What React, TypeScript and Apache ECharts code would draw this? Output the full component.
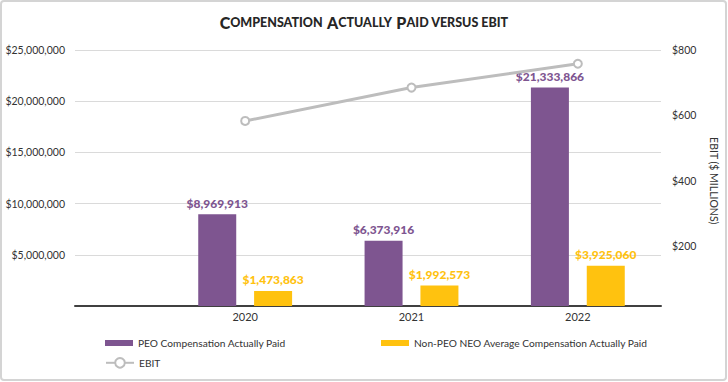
import React, { useEffect, useRef } from "react";
import * as echarts from "echarts";

const years = ["2020", "2021", "2022"];
const peoCap = [8969913, 6373916, 21333866];
const neoCap = [1473863, 1992573, 3925060];
const ebit = [583, 685, 758];

const peoName = "PEO Compensation Actually Paid";
const neoName = "Non-PEO NEO Average Compensation Actually Paid";
const ebitName = "EBIT";

const PURPLE = "#7E5590";
const GOLD = "#FFC20F";
const GRAY = "#BDBDBD";
const TEXT = "#333333";
const FONT = "Lato";

const money = (v: number) => "$" + Math.round(v).toLocaleString("en-US");

export default function App() {
  const ref = useRef<HTMLDivElement>(null);
  useEffect(() => {
    if (!ref.current) return;
    const chart = echarts.init(ref.current, undefined, { renderer: "svg" });
    const legendText = { color: TEXT, fontSize: 10.2, fontFamily: FONT };
    chart.setOption({
      animation: false,
      backgroundColor: "#ffffff",
      textStyle: { fontFamily: FONT },
      graphic: [
        {
          type: "rect",
          shape: { x: 1, y: 1, width: 725, height: 379, r: 3 },
          style: { fill: "none", stroke: "#d4d4d4", lineWidth: 2 },
          silent: true,
        },
      ],
      title: {
        text: "{b|C}{s|OMPENSATION} {b|A}{s|CTUALLY} {b|P}{s|AID VERSUS EBIT}",
        left: "center",
        top: 8,
        textStyle: {
          rich: {
            b: { fontSize: 16, fontWeight: 900, fontFamily: FONT, color: "#262626" },
            s: { fontSize: 12.5, fontWeight: 900, fontFamily: FONT, color: "#262626" },
          },
        },
      },
      legend: [
        {
          data: [peoName],
          left: 100,
          top: 333,
          itemWidth: 28,
          itemHeight: 6,
          icon: "rect",
          textStyle: legendText,
        },
        {
          data: [neoName],
          left: 376,
          top: 333,
          itemWidth: 28,
          itemHeight: 6,
          icon: "rect",
          textStyle: legendText,
        },
        {
          data: [ebitName],
          left: 100,
          top: 352,
          itemWidth: 28,
          itemHeight: 12,
          textStyle: legendText,
        },
      ],
      grid: [
        { left: 75, right: 67, top: 50, bottom: 76 },
        { left: 162, right: 67, top: 50, bottom: 76 },
        { left: 162, right: 67, top: 50, bottom: 70.5 },
      ],
      xAxis: [
        {
          gridIndex: 0,
          type: "category",
          data: [""],
          axisLine: { lineStyle: { color: "#404040", width: 2 } },
          axisTick: { show: false },
          axisLabel: { show: false },
        },
        {
          gridIndex: 1,
          type: "category",
          data: years,
          axisLine: { show: false },
          axisTick: { show: false },
          axisLabel: { color: TEXT, fontSize: 11, fontFamily: FONT, margin: 5 },
        },
        {
          gridIndex: 2,
          type: "category",
          data: years,
          show: false,
        },
      ],
      yAxis: [
        {
          gridIndex: 0,
          type: "value",
          min: 0,
          max: 25000000,
          interval: 5000000,
          axisLine: { show: false },
          axisTick: { show: false },
          axisLabel: {
            color: TEXT,
            fontSize: 10.5,
            fontFamily: FONT,
            margin: 10,
            showMinLabel: false,
            formatter: (v: number) => (v === 0 ? "" : money(v)),
          },
          splitLine: { lineStyle: { color: "#dadada", width: 1 } },
        },
        {
          gridIndex: 1,
          type: "value",
          min: 0,
          max: 25000000,
          show: false,
          splitLine: { show: false },
        },
        {
          gridIndex: 2,
          type: "value",
          position: "right",
          min: 0,
          max: 800,
          interval: 200,
          axisLine: { show: false },
          axisTick: { show: false },
          splitLine: { show: false },
          axisLabel: {
            color: TEXT,
            fontSize: 10.5,
            fontFamily: FONT,
            margin: 11,
            showMinLabel: false,
            formatter: (v: number) => (v === 0 ? "" : "$" + v),
          },
          name: "EBIT ($ MILLIONS)",
          nameLocation: "middle",
          nameRotate: -90,
          nameGap: 47,
          nameTextStyle: { color: TEXT, fontSize: 10.5, fontFamily: FONT },
        },
      ],
      series: [
        {
          name: peoName,
          type: "bar",
          xAxisIndex: 1,
          yAxisIndex: 1,
          data: peoCap,
          barWidth: 38,
          barGap: "47%",
          itemStyle: { color: PURPLE },
          label: {
            show: true,
            position: "top",
            distance: 5,
            color: PURPLE,
            fontWeight: 900,
            fontSize: 12,
            fontFamily: FONT,
            formatter: (p: any) => money(p.value),
          },
        },
        {
          name: neoName,
          type: "bar",
          xAxisIndex: 1,
          yAxisIndex: 1,
          data: neoCap,
          barWidth: 38,
          itemStyle: { color: GOLD },
          label: {
            show: true,
            position: "top",
            distance: 5,
            color: GOLD,
            fontWeight: 900,
            fontSize: 12,
            fontFamily: FONT,
            formatter: (p: any) => money(p.value),
          },
        },
        {
          name: ebitName,
          type: "line",
          xAxisIndex: 2,
          yAxisIndex: 2,
          data: ebit,
          symbol: "circle",
          symbolSize: 8,
          lineStyle: { color: GRAY, width: 3 },
          itemStyle: { color: "#ffffff", borderColor: GRAY, borderWidth: 2 },
          z: 5,
        },
      ],
    });
    return () => chart.dispose();
  }, []);
  return (
    <div
      ref={ref}
      style={{ position: "fixed", left: 0, top: 0, width: 728, height: 382, background: "#fff" }}
    />
  );
}
